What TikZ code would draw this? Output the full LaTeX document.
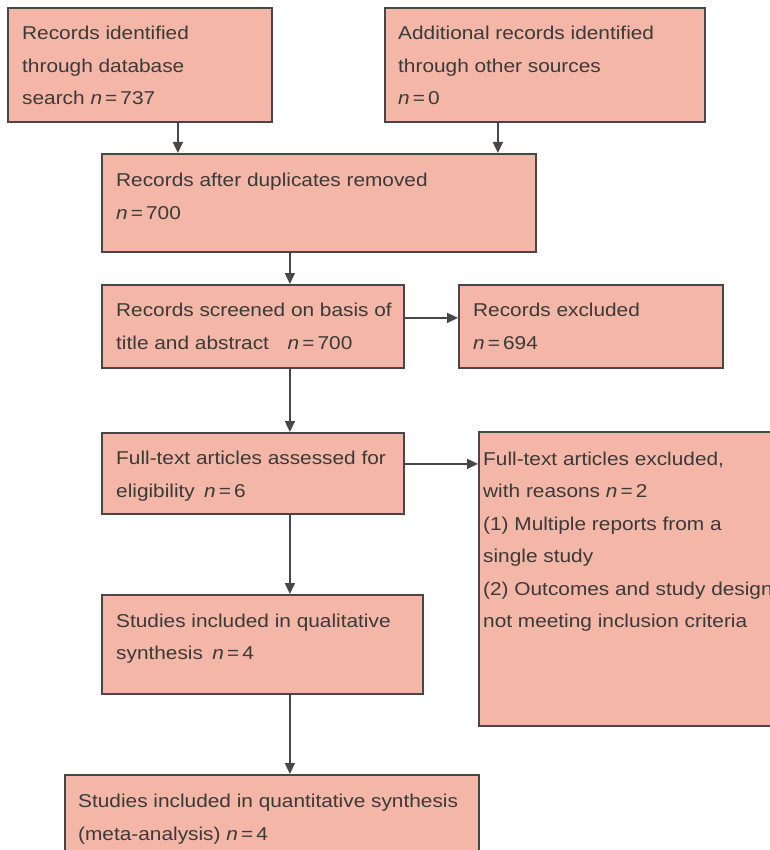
\documentclass[tikz,border=0pt]{standalone}
\usepackage{fontspec}
\setmainfont{Liberation Sans}[FakeStretch=1.12]
\usetikzlibrary{calc,arrows.meta}
\definecolor{boxfill}{HTML}{F4B6A6}
\definecolor{boxline}{HTML}{474747}
\definecolor{txtcol}{HTML}{3A3A3A}
\newcommand{\nn}{\textit{n}\,=\,}
\begin{document}
\begin{tikzpicture}[x=1pt,y=-1pt,
  box/.style={draw=boxline, fill=boxfill, line width=1.8pt, rectangle, anchor=north west, inner sep=0pt},
  txt/.style={anchor=base west, align=left, inner sep=0pt, text=txtcol, font=\fontsize{18.6}{32.5}\selectfont},
  arr/.style={-{Triangle[length=11pt,width=10pt]}, line width=1.5pt, draw=boxline}]
\useasboundingbox (0,0) rectangle (769,850);
% boxes
\node[box, minimum width=264, minimum height=114] (a) at (7,7) {};
\node[box, minimum width=320, minimum height=114] (b) at (384,7) {};
\node[box, minimum width=434, minimum height=98] (c) at (101,153) {};
\node[box, minimum width=302, minimum height=83] (d) at (101,284) {};
\node[box, minimum width=264, minimum height=83] (e) at (458,284) {};
\node[box, minimum width=302, minimum height=81] (f) at (101,432) {};
\node[box, minimum width=330, minimum height=294] (g) at (478,431) {};
\node[box, minimum width=321, minimum height=99] (h) at (101,594) {};
\node[box, minimum width=414, minimum height=100] (i) at (64,774) {};
% texts (anchor = baseline of the last line)
\node[txt] (ta) at ($(a.north west)+(15,33+65)$) {Records identified\\through database\\search \nn737};
\node[txt] (tb) at ($(b.north west)+(14,33+65)$) {Additional records identified\\through other sources\\\nn0};
\node[txt] (tc) at ($(c.north west)+(15,34+32.5)$) {Records after duplicates removed\\\nn700};
\node[txt] (td) at ($(d.north west)+(15,34+31)$) {Records screened on basis of\\title and abstract\quad\nn700};
\node[txt] (te) at ($(e.north west)+(15,34+31)$) {Records excluded\\\nn694};
\node[txt] (tf) at ($(f.north west)+(15,32+33)$) {Full-text articles assessed for\\eligibility\enspace\nn6};
\node[txt] (tg) at ($(g.north west)+(5,34+162.5)$) {Full-text articles excluded,\\with reasons \nn2\\(1) Multiple reports from a\\single study\\(2) Outcomes and study design\\not meeting inclusion criteria};
\node[txt] (th) at ($(h.north west)+(15,33+32.5)$) {Studies included in qualitative\\synthesis\enspace\nn4};
\node[txt] (ti) at ($(i.north west)+(14,34+32)$) {Studies included in quantitative synthesis\\(meta-analysis) \nn4};
% connector anchors
\coordinate (a1) at ($(a.south)+(38,0)$);
\coordinate (b1) at ($(b.south)+(-47,0)$);
\coordinate (m1) at ($(d.north)+(37,0)$);
\coordinate (d2) at ($(d.east)+(0,-8.5)$);
\coordinate (f2) at ($(f.east)+(0,-9.5)$);
% connectors
\draw[arr] (a1) -- (a1 |- c.north);
\draw[arr] (b1) -- (b1 |- c.north);
\draw[arr] (m1 |- c.south) -- (m1);
\draw[arr] (d2) -- (d2 -| e.west);
\draw[arr] (m1 |- d.south) -- (m1 |- f.north);
\draw[arr] (f2) -- (f2 -| g.west);
\draw[arr] (m1 |- f.south) -- (m1 |- h.north);
\draw[arr] (m1 |- h.south) -- (m1 |- i.north);
\end{tikzpicture}
\end{document}
